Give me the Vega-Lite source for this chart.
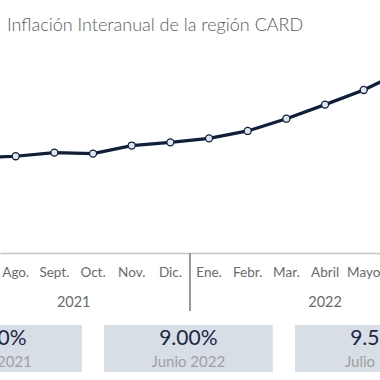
{
  "$schema": "https://vega.github.io/schema/vega-lite/v6.json",
  "padding": {"top": 17, "left": 0, "right": 0, "bottom": 0},
  "background": "white",
  "title": {"text": "Inflación Interanual de la región CARD", "anchor": "start", "dx": 7, "font": "Lato", "fontSize": 18, "fontWeight": 300, "color": "#5a5a5a", "offset": 13},
  "datasets": {
    "meses": [
      {"mes": "Julio", "anio": "2021", "idx": -1, "inflacion": 4.70},
      {"mes": "Ago.", "anio": "2021", "idx": 0, "inflacion": 4.77},
      {"mes": "Sept.", "anio": "2021", "idx": 1, "inflacion": 4.95},
      {"mes": "Oct.", "anio": "2021", "idx": 2, "inflacion": 4.90},
      {"mes": "Nov.", "anio": "2021", "idx": 3, "inflacion": 5.30},
      {"mes": "Dic.", "anio": "2021", "idx": 4, "inflacion": 5.46},
      {"mes": "Ene.", "anio": "2022", "idx": 5, "inflacion": 5.66},
      {"mes": "Febr.", "anio": "2022", "idx": 6, "inflacion": 6.03},
      {"mes": "Mar.", "anio": "2022", "idx": 7, "inflacion": 6.64},
      {"mes": "Abril", "anio": "2022", "idx": 8, "inflacion": 7.34},
      {"mes": "Mayo", "anio": "2022", "idx": 9, "inflacion": 8.07},
      {"mes": "Junio", "anio": "2022", "idx": 10, "inflacion": 9.00},
      {"mes": "Julio", "anio": "2022", "idx": 11, "inflacion": 9.52}
    ],
    "recuadros": [
      {"periodo": "Julio 2021", "valor": "4.70%"},
      {"periodo": "Junio 2022", "valor": "9.00%"},
      {"periodo": "Julio 2022", "valor": "9.52%"}
    ]
  },
  "spacing": 0,
  "resolve": {"scale": {"x": "independent", "y": "independent"}},
  "vconcat": [
    {
      "width": 380,
      "height": 204,
      "data": {"name": "meses"},
      "encoding": {
        "x": {"field": "idx", "type": "quantitative", "scale": {"domain": [-0.406, 9.421], "nice": false, "zero": false}, "axis": null},
        "y": {"field": "inflacion", "type": "quantitative", "scale": {"domain": [0, 10.16], "nice": false, "zero": false}, "axis": null}
      },
      "layer": [
        {"mark": {"type": "line", "clip": true, "color": "#0e1f3d", "strokeWidth": 3.2}},
        {"mark": {"type": "point", "clip": true, "filled": true, "fill": "#dfe6f0", "stroke": "#0e1f3d", "strokeWidth": 1.3, "size": 50, "opacity": 1, "shape": "circle"}}
      ]
    },
    {
      "spacing": 13,
      "resolve": {"scale": {"x": "independent", "y": "independent"}},
      "vconcat": [
        {
          "width": 380,
          "height": 58,
          "data": {"name": "meses"},
          "layer": [
            {
              "mark": {"type": "rule", "color": "#9a9a9a", "strokeWidth": 1.3},
              "encoding": {
                "x": {"datum": 4.5, "type": "quantitative", "scale": {"domain": [-0.406, 9.421], "nice": false, "zero": false}, "axis": {"orient": "top", "labels": false, "ticks": false, "grid": false, "title": null, "domainColor": "#c4c4c4", "domainWidth": 1.5}}
              }
            },
            {
              "mark": {"type": "text", "clip": true, "font": "Lato", "fontSize": 13.5, "color": "#6a6a6a"},
              "encoding": {
                "x": {"field": "idx", "type": "quantitative"},
                "y": {"datum": "mes", "type": "nominal", "scale": {"domain": ["mes", "anio"], "range": [20, 50], "padding": 0}, "axis": null},
                "text": {"field": "mes"}
              }
            },
            {
              "transform": [{"aggregate": [{"op": "mean", "field": "idx", "as": "centro"}], "groupby": ["anio"]}],
              "mark": {"type": "text", "clip": true, "font": "Lato", "fontSize": 14.5, "color": "#6a6a6a"},
              "encoding": {
                "x": {"field": "centro", "type": "quantitative"},
                "y": {"datum": "anio", "type": "nominal"},
                "text": {"field": "anio"}
              }
            }
          ]
        },
        {
          "width": 380,
          "height": 47,
          "data": {"name": "recuadros"},
          "encoding": {
            "x": {"field": "periodo", "type": "nominal", "sort": null, "scale": {"type": "band", "domain": ["Julio 2021", "Junio 2022", "Julio 2022"], "range": [-87, 463.7], "paddingInner": 0.116, "paddingOuter": 0}, "axis": null}
          },
          "layer": [
            {"mark": {"type": "rect", "clip": true, "color": "#d7dee6"}},
            {
              "mark": {"type": "text", "clip": true, "font": "Lato", "fontSize": 21, "color": "#1a2744"},
              "encoding": {
                "y": {"datum": "valor", "type": "nominal", "scale": {"domain": ["valor", "fecha"], "range": [14, 37], "padding": 0}, "axis": null},
                "text": {"field": "valor"}
              }
            },
            {
              "mark": {"type": "text", "clip": true, "font": "Lato", "fontSize": 15, "color": "#a0a0a0"},
              "encoding": {
                "y": {"datum": "fecha", "type": "nominal"},
                "text": {"field": "periodo"}
              }
            }
          ]
        }
      ]
    }
  ],
  "config": {"view": {"stroke": null}}
}
